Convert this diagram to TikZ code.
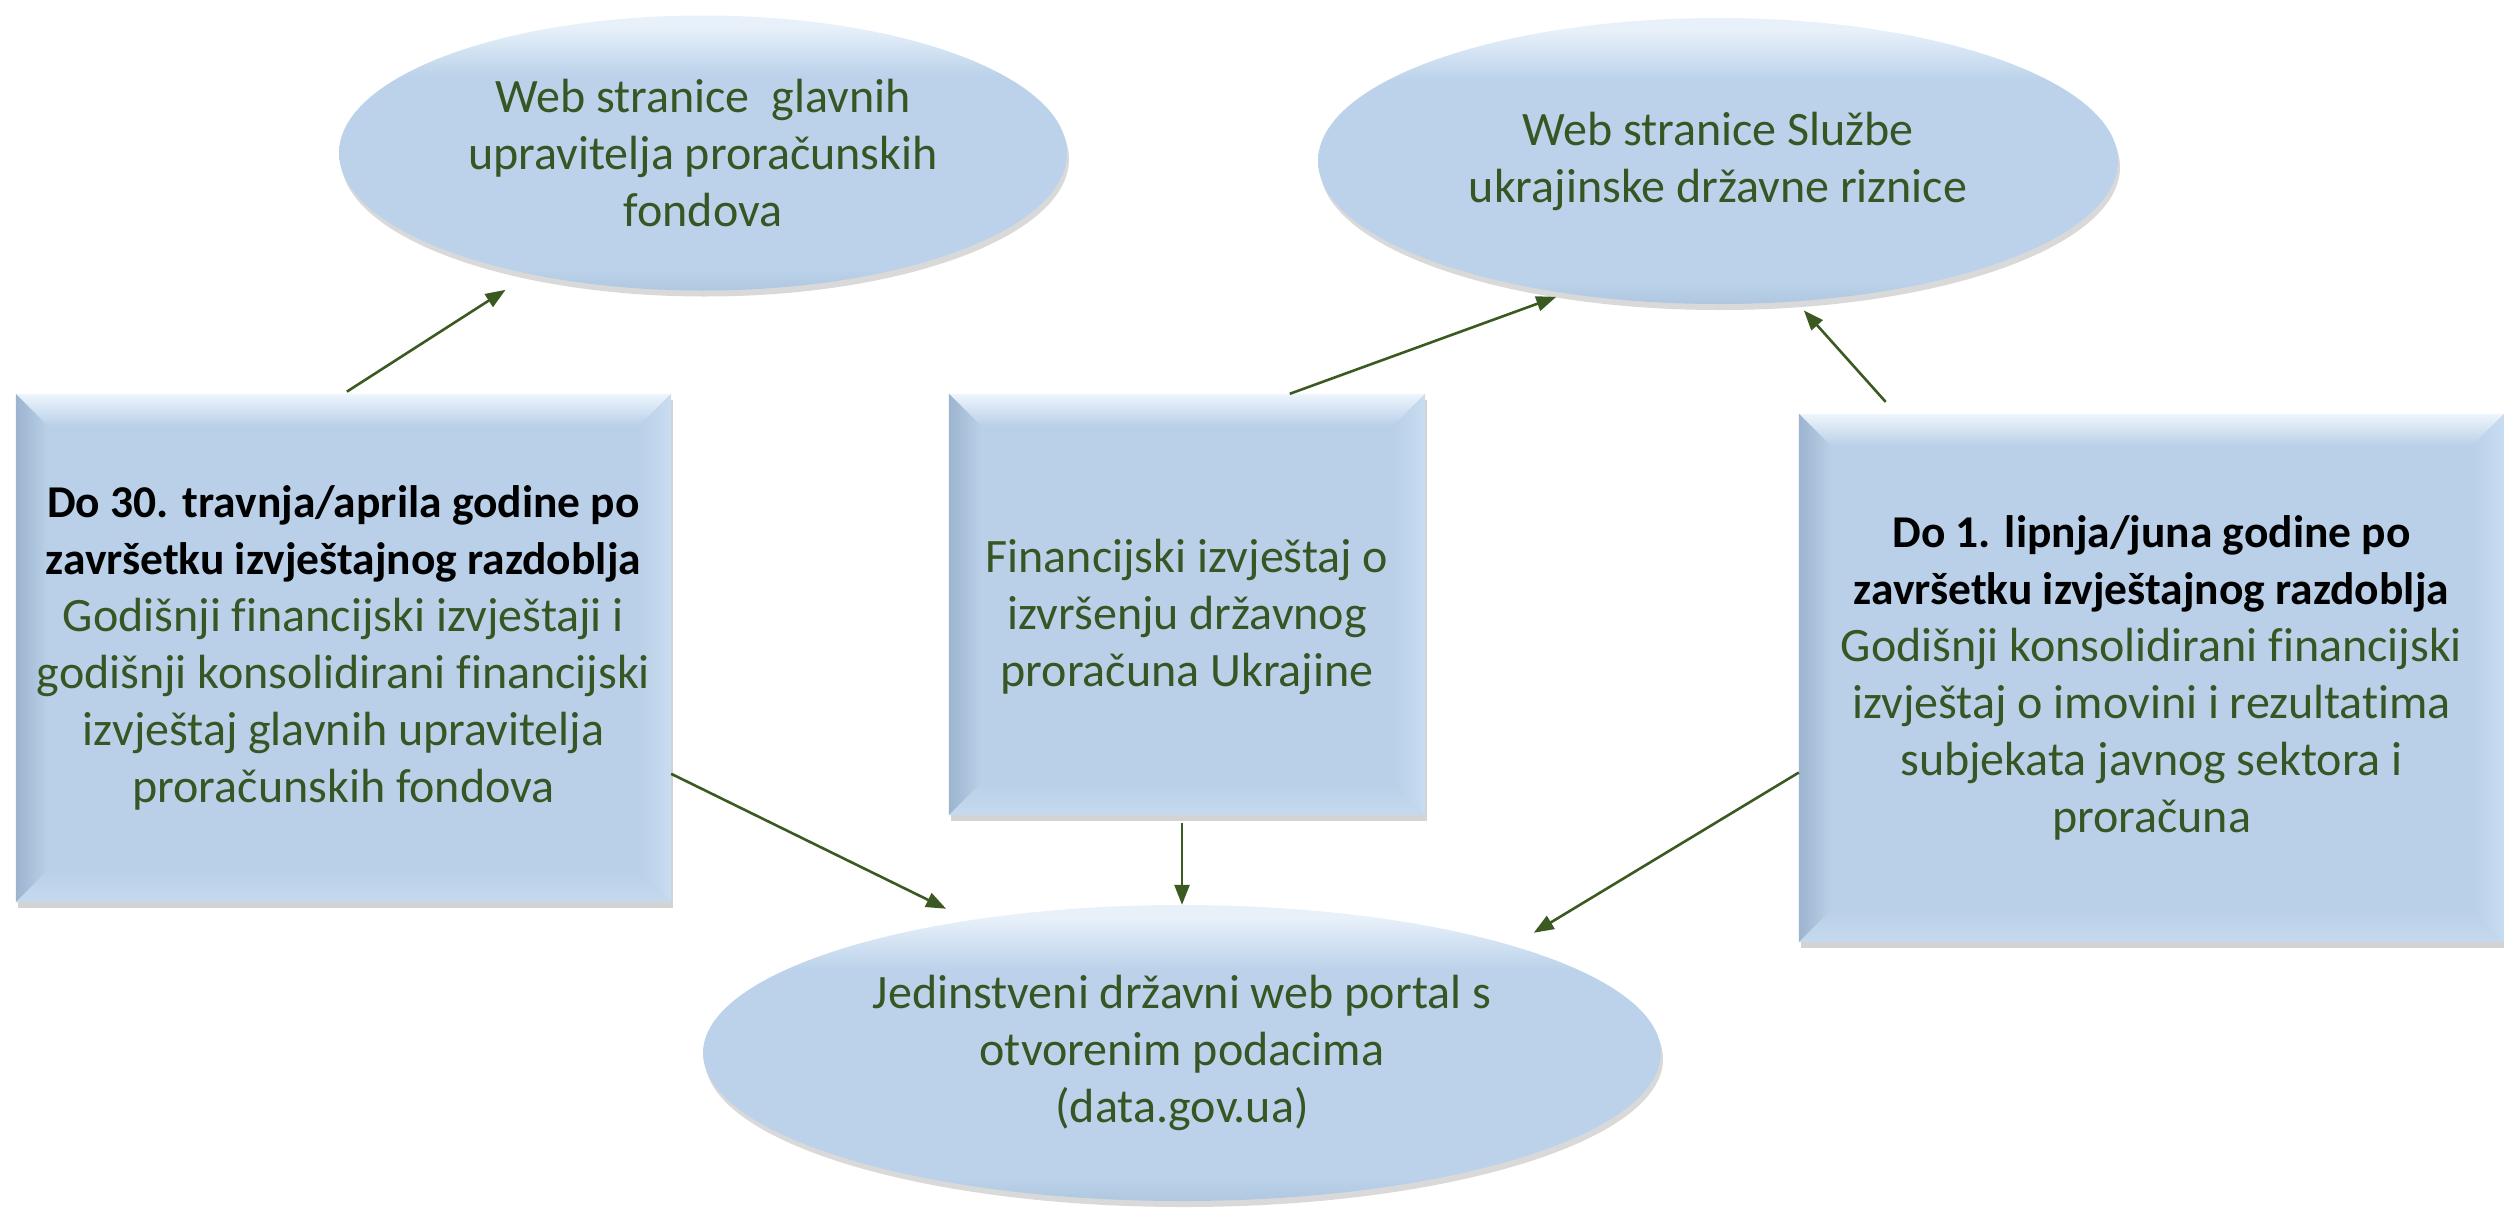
\documentclass[tikz,border=0pt]{standalone}
\usepackage{fontspec}
\setmainfont{Carlito}[Ligatures=NoCommon]
\usetikzlibrary{shapes.geometric,shadows,arrows.meta}
\definecolor{txtgreen}{HTML}{375623}
\definecolor{arrgreen}{HTML}{3B5A22}
\definecolor{face}{HTML}{B9D0E8}
\definecolor{bvlight}{HTML}{EEF5FC}
\definecolor{bvdark}{HTML}{9CB4CE}
\definecolor{bvright}{HTML}{C9DDF1}
\definecolor{bvbottom}{HTML}{C6DAEE}
\definecolor{elltop}{HTML}{E8F1FA}
\definecolor{ellmid}{HTML}{BBD2EA}
\definecolor{ellbot}{HTML}{AFC7E0}
\pgfdeclareverticalshading{ellshade}{100bp}{color(0bp)=(ellbot); color(25bp)=(ellbot); color(29bp)=(ellmid); color(64bp)=(ellmid); color(73bp)=(elltop); color(100bp)=(elltop)}
\def\bw{32pt}
\newcommand\bevelize[1]{%
  \shade[top color=bvlight, bottom color=face] (#1.north west) -- (#1.north east) -- ([shift={(-\bw,-\bw)}]#1.north east) -- ([shift={(\bw,-\bw)}]#1.north west) -- cycle;
  \shade[left color=bvdark, right color=face] (#1.north west) -- ([shift={(\bw,-\bw)}]#1.north west) -- ([shift={(\bw,\bw)}]#1.south west) -- (#1.south west) -- cycle;
  \shade[right color=bvright, left color=face] (#1.north east) -- ([shift={(-\bw,-\bw)}]#1.north east) -- ([shift={(-\bw,\bw)}]#1.south east) -- (#1.south east) -- cycle;
  \shade[bottom color=bvbottom, top color=face] (#1.south west) -- ([shift={(\bw,\bw)}]#1.south west) -- ([shift={(-\bw,\bw)}]#1.south east) -- (#1.south east) -- cycle;}
\newcommand\hdline[1]{{\fontsize{45.5}{57}\selectfont\bfseries\color{black}#1}}
\begin{document}
\begin{tikzpicture}[x=1pt,y=-1pt,
  txt/.style={font=\fontsize{48}{57}\selectfont, text=txtgreen, align=center, inner sep=0pt},
  bevbox/.style={txt, rectangle, fill=face, drop shadow={shadow xshift=2pt, shadow yshift=-6pt, opacity=0.35}},
  ell/.style={txt, ellipse, shading=ellshade, drop shadow={shadow xshift=2pt, shadow yshift=-6pt, opacity=0.3}},
  arr/.style={draw=arrgreen, line width=2.6pt, -{Triangle[length=20pt,width=15pt]}}]
\useasboundingbox (0,0) rectangle (2504,1208);

% ellipses
\node[ell, minimum width=728pt, minimum height=275pt] (tl) at (703,153)
  {Web stranice~ glavnih\\upravitelja proračunskih\\fondova};
\node[ell, minimum width=800pt, minimum height=286pt] (tr) at (1718,161)
  {Web stranice Službe\\ukrajinske državne riznice};
\node[ell, minimum width=958pt, minimum height=296pt] (bot) at (1182,1053)
  {Jedinstveni državni web portal s\\otvorenim podacima\\(data.gov.ua)};

% bevelled boxes
\node[bevbox, minimum width=655pt, minimum height=508pt] (lbox) at (343.5,648) {};
\bevelize{lbox}
\node[txt] (ltext) at (lbox.center)
  {\hdline{Do 30. travnja/aprila godine po}\\
   \hdline{završetku izvještajnog razdoblja}\\
   Godišnji financijski izvještaji i\\
   godišnji konsolidirani financijski\\
   izvještaj glavnih upravitelja\\
   proračunskih fondova};

\node[bevbox, minimum width=476pt, minimum height=421pt] (mbox) at (1187,604.5) {};
\bevelize{mbox}
\node[txt] (mtext) at ([yshift=-12pt]mbox.center)
  {Financijski izvještaj o\\izvršenju državnog\\proračuna Ukrajine};

\node[bevbox, minimum width=705pt, minimum height=528pt] (rbox) at (2151.5,678) {};
\bevelize{rbox}
\node[txt] (rtext) at (rbox.center)
  {\hdline{Do 1. lipnja/juna godine po}\\
   \hdline{završetku izvještajnog razdoblja}\\
   Godišnji konsolidirani financijski\\
   izvještaj o imovini i rezultatima\\
   subjekata javnog sektora i\\
   proračuna};

% connectors
\draw[arr, shorten <=4pt, shorten >=29pt] (lbox.north) -- (tl.215);
\draw[arr, shorten >=10pt] (mbox.64) -- (tr.221);
\draw[arr, shorten <=16pt, shorten >=12pt] (rbox.134) -- (tr.299);
\draw[arr, shorten >=26pt] (lbox.339) -- (bot.148);
\draw[arr, shorten <=8pt] (mbox.south -| bot.north) -- (bot.north);
\draw[arr, shorten >=25pt] (rbox.195) -- (bot.18);
\end{tikzpicture}
\end{document}
